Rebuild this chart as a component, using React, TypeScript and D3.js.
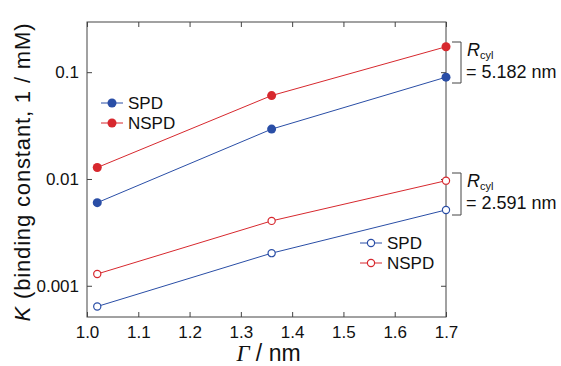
import * as d3 from "d3";
import React, { useRef, useEffect } from "react";

const W = 561;
const H = 366;
const margin = { top: 22, right: 115, bottom: 49, left: 87 };
const width = W - margin.left - margin.right;
const height = H - margin.top - margin.bottom;

const gammaValues = [1.02, 1.36, 1.7];
const spdFilled = [0.006, 0.0293, 0.0898];
const nspdFilled = [0.0128, 0.0604, 0.173];
const spdOpen = [0.00064, 0.00202, 0.00513];
const nspdOpen = [0.00129, 0.00405, 0.00964];

const xTicks = [1.0, 1.1, 1.2, 1.3, 1.4, 1.5, 1.6, 1.7];
const yTicks = [0.001, 0.01, 0.1];
const yTickLabels = ["0.001", "0.01", "0.1"];

const BLUE = "#2a4ea6";
const RED = "#d7282e";
const AXIS = "#444";
const FONT = "'Liberation Sans', Arial, sans-serif";

const series = [
  { name: "SPD", values: spdFilled, color: BLUE, filled: true },
  { name: "NSPD", values: nspdFilled, color: RED, filled: true },
  { name: "SPD", values: spdOpen, color: BLUE, filled: false },
  { name: "NSPD", values: nspdOpen, color: RED, filled: false },
];

function App() {
  const ref = useRef<SVGSVGElement>(null);

  useEffect(() => {
    const svg = d3.select(ref.current);
    svg.selectAll("*").remove();

    const x = d3.scaleLinear().domain([1.0, 1.7]).range([0, width]);
    const y = d3.scaleLog().domain([0.00051, 0.295]).range([height, 0]);

    const g = svg
      .append("g")
      .attr("transform", `translate(${margin.left},${margin.top})`);

    // frame
    g.append("rect")
      .attr("width", width)
      .attr("height", height)
      .attr("fill", "none")
      .attr("stroke", AXIS)
      .attr("stroke-width", 1);

    const styleAxis = (sel: any, labels: boolean) => {
      sel.select(".domain").remove();
      sel.selectAll("line").attr("stroke", AXIS);
      sel
        .selectAll("text")
        .attr("fill", "#111")
        .style("font-family", FONT)
        .style("font-size", "17px");
      if (!labels) sel.selectAll("text").remove();
    };

    g.append("g")
      .attr("transform", `translate(0,${height})`)
      .call(
        d3.axisBottom(x).tickValues(xTicks).tickSize(-5).tickPadding(9).tickFormat(d3.format(".1f"))
      )
      .call((s) => styleAxis(s, true));

    g.append("g")
      .call(d3.axisTop(x).tickValues(xTicks).tickSize(-5))
      .call((s) => styleAxis(s, false));

    g.append("g")
      .call(
        d3.axisLeft(y).tickValues(yTicks).tickSize(-5).tickPadding(8)
          .tickFormat((_, i) => yTickLabels[i])
      )
      .call((s) => styleAxis(s, true));

    g.append("g")
      .attr("transform", `translate(${width},0)`)
      .call(d3.axisRight(y).tickValues(yTicks).tickSize(-5))
      .call((s) => styleAxis(s, false));

    const line = d3
      .line<number>()
      .x((_, i) => x(gammaValues[i]))
      .y((d) => y(d));

    series.forEach((s) => {
      g.append("path")
        .datum(s.values)
        .attr("d", line)
        .attr("fill", "none")
        .attr("stroke", s.color)
        .attr("stroke-width", 1);
      g.selectAll(null)
        .data(s.values)
        .join("circle")
        .attr("cx", (_, i) => x(gammaValues[i]))
        .attr("cy", (d) => y(d))
        .attr("r", s.filled ? 4.5 : 3.6)
        .attr("fill", s.filled ? s.color : "white")
        .attr("stroke", s.color)
        .attr("stroke-width", s.filled ? 0 : 1.2);
    });

    // legends
    const legend = (lx: number, ly: number, items: typeof series) => {
      items.forEach((s, i) => {
        const yy = ly + i * 20;
        g.append("line")
          .attr("x1", lx)
          .attr("x2", lx + 22)
          .attr("y1", yy)
          .attr("y2", yy)
          .attr("stroke", s.color)
          .attr("stroke-width", 1);
        g.append("circle")
          .attr("cx", lx + 11)
          .attr("cy", yy)
          .attr("r", s.filled ? 4.5 : 3.6)
          .attr("fill", s.filled ? s.color : "white")
          .attr("stroke", s.color)
          .attr("stroke-width", s.filled ? 0 : 1.2);
        g.append("text")
          .attr("x", lx + 27)
          .attr("y", yy + 6)
          .style("font-family", FONT)
          .style("font-size", "17px")
          .attr("fill", "#111")
          .text(s.name);
      });
    };
    legend(14, 81, series.slice(0, 2));
    legend(273, 221, series.slice(2, 4));

    // R_cyl brackets
    const bracket = (top: number, bottom: number, value: string) => {
      const bx = width + 15;
      g.append("path")
        .attr("d", `M${width + 6},${top}H${bx}V${bottom}H${width + 6}`)
        .attr("fill", "none")
        .attr("stroke", AXIS)
        .attr("stroke-width", 1);
      const t = g
        .append("text")
        .attr("x", bx + 6)
        .attr("y", top + 14)
        .style("font-family", FONT)
        .style("font-size", "18px")
        .attr("fill", "#111");
      t.append("tspan").style("font-style", "italic").text("R");
      t.append("tspan").attr("dy", 3).style("font-size", "11px").text("cyl");
      g.append("text")
        .attr("x", bx + 5)
        .attr("y", top + 36)
        .style("font-family", FONT)
        .style("font-size", "18px")
        .attr("fill", "#111")
        .text(`= ${value} nm`);
    };
    bracket(20, 61, "5.182");
    bracket(151, 193, "2.591");

    // axis titles
    const xt = g
      .append("text")
      .attr("x", width / 2 + 2)
      .attr("y", height + 44)
      .attr("text-anchor", "middle")
      .style("font-family", FONT)
      .style("font-size", "23px")
      .attr("fill", "#111");
    xt.append("tspan")
      .style("font-style", "italic")
      .style("font-family", "'Liberation Serif', serif")
      .text("Γ");
    xt.append("tspan").text(" / nm");

    const yt = svg
      .append("text")
      .attr("transform", `translate(30,${margin.top + height / 2 + 3}) rotate(-90)`)
      .attr("text-anchor", "middle")
      .attr("textLength", 298)
      .attr("lengthAdjust", "spacing")
      .style("font-family", FONT)
      .style("font-size", "22px")
      .attr("fill", "#111");
    yt.append("tspan").style("font-style", "italic").text("K");
    yt.append("tspan").text(" (binding constant, 1 / mM)");
  }, []);

  return (
    <svg
      ref={ref}
      width={W}
      height={H}
      style={{ position: "absolute", left: 0, top: 0, background: "white" }}
    />
  );
}

export default App;
